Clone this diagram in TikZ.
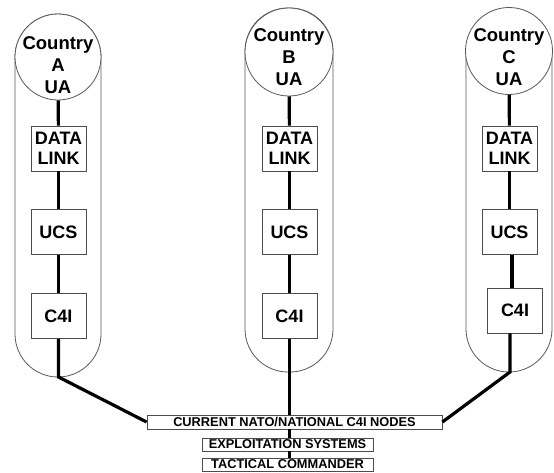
\documentclass[tikz,border=0pt]{standalone}
\usepackage{fontspec}
\setmainfont{Liberation Sans}
\begin{document}
\begin{tikzpicture}[x=1pt,y=-1pt,
  capsule/.style={draw=black!65, line width=0.8pt, rounded corners=43pt},
  uacirc/.style={circle, draw=black!65, line width=0.8pt, fill=white, inner sep=0pt},
  uatext/.style={align=center, font=\fontsize{18.5}{22}\selectfont\bfseries, inner sep=0pt},
  unit/.style={draw=black!70, line width=0.8pt, fill=white, minimum width=55pt, minimum height=45pt, inner sep=0pt, align=center, font=\fontsize{18}{20}\selectfont\bfseries},
  bar/.style={draw=black!70, line width=0.8pt, fill=white, inner sep=0pt, font=\fontsize{12.8}{13}\selectfont\bfseries},
  link/.style={line width=3.2pt, black}]
\useasboundingbox (0,0) rectangle (554,472);

% capsules
\draw[capsule] (15,14) rectangle (101,377);
\draw[capsule] (245,8) rectangle (333,372);
\draw[capsule] (466,8) rectangle (552,372);

% column A
\node[uacirc, minimum size=86pt] (uaA) at (58,57) {};
\node[uatext] (uaAt) at (58,65) {Country\\A\\UA};
\node[unit] (dlA) at (58.5,148.5) {DATA\\LINK};
\node[unit] (ucsA) at (58.5,232) {UCS};
\node[unit] (c4iA) at (58.5,316) {C4I};
\coordinate (botA) at (58.5,377);

% column B
\node[uacirc, minimum size=88pt] (uaB) at (289,52) {};
\node[uatext] (uaBt) at (289,57) {Country\\B\\UA};
\node[unit] (dlB) at (289.5,148.5) {DATA\\LINK};
\node[unit] (ucsB) at (289.5,232) {UCS};
\node[unit] (c4iB) at (289.5,316) {C4I};

% column C
\node[uacirc, minimum size=87pt] (uaC) at (509,51) {};
\node[uatext] (uaCt) at (509,57) {Country\\C\\UA};
\node[unit] (dlC) at (509.5,148.5) {DATA\\LINK};
\node[unit] (ucsC) at (509.5,232) {UCS};
\node[unit] (c4iC) at (515,310.5) {C4I};
\coordinate (botC) at (510,372);

% bottom bars
\node[bar, minimum width=295pt, minimum height=14pt] (nato) at (294.5,422) {CURRENT NATO/NATIONAL C4I NODES};
\node[bar, minimum width=171pt, minimum height=13pt] (expl) at (287.5,444.5) {EXPLOITATION SYSTEMS};
\node[bar, minimum width=171pt, minimum height=13pt] (tac) at (287.5,464.5) {TACTICAL COMMANDER};

% links A
\draw[link] (uaA) -- (dlA);
\draw[link] (dlA) -- (ucsA);
\draw[link] (ucsA) -- (c4iA);
\draw[link] (c4iA) -- (botA) -- (nato.west);

% links B
\draw[link] (uaB) -- (dlB);
\draw[link] (dlB) -- (ucsB);
\draw[link] (ucsB) -- (c4iB);
\draw[link] (c4iB) -- (c4iB |- nato.north);
\draw[link] (c4iB |- nato.south) -- (c4iB |- expl.north);
\draw[link] (c4iB |- expl.south) -- (c4iB |- tac.north);

% links C
\draw[link] (uaC) -- (dlC);
\draw[link] (dlC) -- (ucsC);
\draw[link] ([xshift=2.5pt]ucsC.south) -- ([xshift=2.5pt]ucsC.south |- c4iC.north);
\draw[link] (c4iC.south -| botC) -- (botC) -- (nato.east);
\end{tikzpicture}
\end{document}
